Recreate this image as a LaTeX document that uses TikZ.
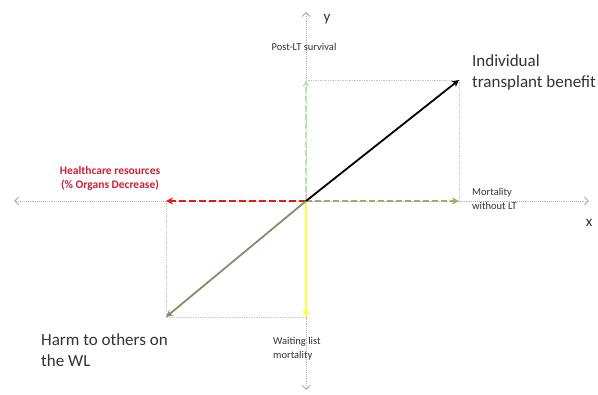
\documentclass[tikz,border=0pt]{standalone}
\usepackage{fontspec}
\setmainfont{Carlito}
\usetikzlibrary{arrows.meta}
\definecolor{axisgray}{HTML}{B4B4B4}
\definecolor{boxgray}{HTML}{C8C8C8}
\definecolor{lgreen}{HTML}{B8E6A8}
\definecolor{olive}{HTML}{A8A86C}
\definecolor{harm}{HTML}{8C8A6A}
\definecolor{ylw}{HTML}{FFFF33}
\definecolor{hred}{HTML}{E01B1B}
\definecolor{hredtext}{HTML}{CC2038}
\definecolor{txt}{HTML}{333333}
\tikzset{
  axisline/.style={axisgray, line width=0.9pt, densely dotted, -{Straight Barb[length=4pt,width=8pt,line width=1pt]}},
  guide/.style={boxgray, line width=0.7pt, densely dotted},
  vec/.style={line width=1.8pt, -{Stealth[length=7pt,width=7pt]}},
  longdash/.style={dash pattern=on 6pt off 3pt},
  small/.style={font=\fontsize{10.5}{14}\selectfont, text=txt, align=left, inner sep=0pt},
  big/.style={font=\fontsize{17}{21}\selectfont, text=txt, align=left, inner sep=0pt},
  axlabel/.style={font=\fontsize{15}{18}\selectfont, text=txt, inner sep=0pt}
}
\begin{document}
\begin{tikzpicture}[x=1pt,y=-1pt]
\useasboundingbox (0,0) rectangle (598,395);
\fill[white] (0,0) rectangle (598,395);
% coordinates
\coordinate (O) at (306,201);
\coordinate (XL) at (14,201);
\coordinate (XR) at (589,201);
\coordinate (YT) at (306,12);
\coordinate (YB) at (306,390);
\coordinate (A) at (459,80);
\coordinate (G) at (306,80);
\coordinate (M) at (459,201);
\coordinate (R) at (166,201);
\coordinate (W) at (306,317);
\coordinate (H) at (166,317);
% axes
\draw[axisline] (O) -- (XR);
\draw[axisline] (O) -- (XL);
\draw[axisline] (O) -- (YT);
\draw[axisline] (O) -- (YB);
% guide rectangles
\draw[guide] (G) -- (A) -- (M);
\draw[guide] (R) -- (H) -- (W);
% vectors
\draw[vec, lgreen, longdash] (O) -- (G);
\draw[vec, olive, longdash] (O) -- (M);
\draw[vec, hred, dash pattern=on 7pt off 3pt] (O) -- (R);
\draw[vec, ylw] (O) -- (W);
\draw[vec, harm] (O) -- (H);
\draw[vec, black] (O) -- (A);
% labels
\node[axlabel] (xl) at (589,223) {x};
\node[axlabel] (yl) at (327,19) {y};
\node[small] (post) at (304,47) {Post-LT survival};
\node[big, anchor=west] (ind) at (472,72) {Individual\\transplant benefit};
\node[small, anchor=west] (mort) at (472,199) {Mortality\\without LT};
\node[small, font=\fontsize{11.5}{14}\selectfont\bfseries, text=hredtext, align=center] (hc) at (110,178) {Healthcare resources\\(\% Organs Decrease)};
\node[small, anchor=west] (wl) at (273,349) {Waiting list\\mortality};
\node[big, anchor=west] (harmt) at (41,350) {Harm to others on\\the WL};
\end{tikzpicture}
\end{document}
